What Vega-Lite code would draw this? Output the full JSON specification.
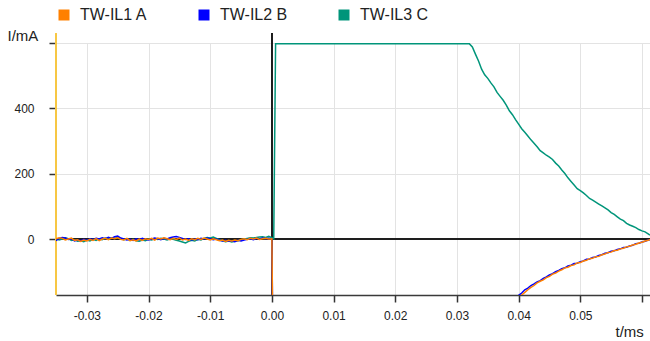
{
  "$schema": "https://vega.github.io/schema/vega-lite/v6.json",
  "width": 594,
  "height": 252,
  "autosize": {"type": "none"},
  "padding": {"left": 56, "top": 43, "right": 0, "bottom": 46},
  "background": "white",
  "config": {
    "view": {"stroke": null},
    "font": "Liberation Sans",
    "axis": {
      "gridColor": "#e3e3e3",
      "gridWidth": 1,
      "tickColor": "#333333",
      "tickSize": 7,
      "tickWidth": 1.5,
      "labelFont": "Liberation Sans",
      "labelFontSize": 12,
      "labelColor": "#222222",
      "titleFont": "Liberation Sans",
      "titleFontSize": 15,
      "titleFontWeight": "normal",
      "titleColor": "#222222"
    }
  },
  "data": {
    "values": [
      {"t": -0.035, "TW-IL1 A": 2, "TW-IL2 B": -4, "TW-IL3 C": 3},
      {"t": -0.0345, "TW-IL1 A": 5, "TW-IL2 B": 3, "TW-IL3 C": -2},
      {"t": -0.034, "TW-IL1 A": 3, "TW-IL2 B": 6, "TW-IL3 C": 1},
      {"t": -0.0335, "TW-IL1 A": -2, "TW-IL2 B": 4, "TW-IL3 C": 5},
      {"t": -0.033, "TW-IL1 A": 1, "TW-IL2 B": 0, "TW-IL3 C": 2},
      {"t": -0.0325, "TW-IL1 A": 4, "TW-IL2 B": 2, "TW-IL3 C": -3},
      {"t": -0.032, "TW-IL1 A": -3, "TW-IL2 B": -5, "TW-IL3 C": -1},
      {"t": -0.0315, "TW-IL1 A": -1, "TW-IL2 B": -2, "TW-IL3 C": -6},
      {"t": -0.031, "TW-IL1 A": -6, "TW-IL2 B": -4, "TW-IL3 C": -4},
      {"t": -0.0305, "TW-IL1 A": -2, "TW-IL2 B": 0, "TW-IL3 C": -7},
      {"t": -0.03, "TW-IL1 A": -5, "TW-IL2 B": -3, "TW-IL3 C": -2},
      {"t": -0.0295, "TW-IL1 A": 0, "TW-IL2 B": 2, "TW-IL3 C": -5},
      {"t": -0.029, "TW-IL1 A": -3, "TW-IL2 B": -1, "TW-IL3 C": 0},
      {"t": -0.0285, "TW-IL1 A": 2, "TW-IL2 B": 3, "TW-IL3 C": -3},
      {"t": -0.028, "TW-IL1 A": -4, "TW-IL2 B": 1, "TW-IL3 C": 2},
      {"t": -0.0275, "TW-IL1 A": 1, "TW-IL2 B": 5, "TW-IL3 C": -1},
      {"t": -0.027, "TW-IL1 A": 3, "TW-IL2 B": 2, "TW-IL3 C": 4},
      {"t": -0.0265, "TW-IL1 A": -1, "TW-IL2 B": 6, "TW-IL3 C": 1},
      {"t": -0.026, "TW-IL1 A": 4, "TW-IL2 B": 3, "TW-IL3 C": 5},
      {"t": -0.0255, "TW-IL1 A": 2, "TW-IL2 B": 8, "TW-IL3 C": 3},
      {"t": -0.025, "TW-IL1 A": 5, "TW-IL2 B": 10, "TW-IL3 C": 6},
      {"t": -0.0245, "TW-IL1 A": 0, "TW-IL2 B": 4, "TW-IL3 C": 2},
      {"t": -0.024, "TW-IL1 A": -2, "TW-IL2 B": 1, "TW-IL3 C": -1},
      {"t": -0.0235, "TW-IL1 A": 3, "TW-IL2 B": -2, "TW-IL3 C": 2},
      {"t": -0.023, "TW-IL1 A": -4, "TW-IL2 B": 0, "TW-IL3 C": -3},
      {"t": -0.0225, "TW-IL1 A": -1, "TW-IL2 B": -3, "TW-IL3 C": 0},
      {"t": -0.022, "TW-IL1 A": -5, "TW-IL2 B": 2, "TW-IL3 C": -4},
      {"t": -0.0215, "TW-IL1 A": 1, "TW-IL2 B": -1, "TW-IL3 C": -6},
      {"t": -0.021, "TW-IL1 A": -3, "TW-IL2 B": 3, "TW-IL3 C": -2},
      {"t": -0.0205, "TW-IL1 A": 2, "TW-IL2 B": 0, "TW-IL3 C": -4},
      {"t": -0.02, "TW-IL1 A": 0, "TW-IL2 B": -2, "TW-IL3 C": 1},
      {"t": -0.0195, "TW-IL1 A": 3, "TW-IL2 B": 1, "TW-IL3 C": -2},
      {"t": -0.019, "TW-IL1 A": -2, "TW-IL2 B": 4, "TW-IL3 C": 2},
      {"t": -0.0185, "TW-IL1 A": 4, "TW-IL2 B": 2, "TW-IL3 C": 0},
      {"t": -0.018, "TW-IL1 A": 1, "TW-IL2 B": -1, "TW-IL3 C": 3},
      {"t": -0.0175, "TW-IL1 A": 5, "TW-IL2 B": 3, "TW-IL3 C": 1},
      {"t": -0.017, "TW-IL1 A": 2, "TW-IL2 B": 1, "TW-IL3 C": -2},
      {"t": -0.0165, "TW-IL1 A": -1, "TW-IL2 B": 5, "TW-IL3 C": 2},
      {"t": -0.016, "TW-IL1 A": 3, "TW-IL2 B": 7, "TW-IL3 C": 0},
      {"t": -0.0155, "TW-IL1 A": 0, "TW-IL2 B": 9, "TW-IL3 C": -3},
      {"t": -0.015, "TW-IL1 A": 4, "TW-IL2 B": 6, "TW-IL3 C": -5},
      {"t": -0.0145, "TW-IL1 A": -2, "TW-IL2 B": 3, "TW-IL3 C": -8},
      {"t": -0.014, "TW-IL1 A": 1, "TW-IL2 B": 0, "TW-IL3 C": -11},
      {"t": -0.0135, "TW-IL1 A": -3, "TW-IL2 B": 2, "TW-IL3 C": -6},
      {"t": -0.013, "TW-IL1 A": 2, "TW-IL2 B": -2, "TW-IL3 C": -3},
      {"t": -0.0125, "TW-IL1 A": -1, "TW-IL2 B": 1, "TW-IL3 C": -5},
      {"t": -0.012, "TW-IL1 A": 3, "TW-IL2 B": -1, "TW-IL3 C": 0},
      {"t": -0.0115, "TW-IL1 A": 0, "TW-IL2 B": 3, "TW-IL3 C": -2},
      {"t": -0.011, "TW-IL1 A": 4, "TW-IL2 B": 1, "TW-IL3 C": 3},
      {"t": -0.0105, "TW-IL1 A": 1, "TW-IL2 B": 4, "TW-IL3 C": 6},
      {"t": -0.01, "TW-IL1 A": -2, "TW-IL2 B": 2, "TW-IL3 C": 4},
      {"t": -0.0095, "TW-IL1 A": 2, "TW-IL2 B": -1, "TW-IL3 C": 7},
      {"t": -0.009, "TW-IL1 A": -1, "TW-IL2 B": 1, "TW-IL3 C": 3},
      {"t": -0.0085, "TW-IL1 A": -4, "TW-IL2 B": -3, "TW-IL3 C": -1},
      {"t": -0.008, "TW-IL1 A": -2, "TW-IL2 B": -5, "TW-IL3 C": -4},
      {"t": -0.0075, "TW-IL1 A": -6, "TW-IL2 B": -3, "TW-IL3 C": -7},
      {"t": -0.007, "TW-IL1 A": -3, "TW-IL2 B": -6, "TW-IL3 C": -5},
      {"t": -0.0065, "TW-IL1 A": -5, "TW-IL2 B": -4, "TW-IL3 C": -8},
      {"t": -0.006, "TW-IL1 A": -2, "TW-IL2 B": -7, "TW-IL3 C": -6},
      {"t": -0.0055, "TW-IL1 A": -4, "TW-IL2 B": -3, "TW-IL3 C": -4},
      {"t": -0.005, "TW-IL1 A": 0, "TW-IL2 B": -5, "TW-IL3 C": -1},
      {"t": -0.0045, "TW-IL1 A": 2, "TW-IL2 B": -2, "TW-IL3 C": 1},
      {"t": -0.004, "TW-IL1 A": -1, "TW-IL2 B": 0, "TW-IL3 C": 3},
      {"t": -0.0035, "TW-IL1 A": 3, "TW-IL2 B": 2, "TW-IL3 C": 5},
      {"t": -0.003, "TW-IL1 A": 1, "TW-IL2 B": -1, "TW-IL3 C": 4},
      {"t": -0.0025, "TW-IL1 A": 4, "TW-IL2 B": 3, "TW-IL3 C": 6},
      {"t": -0.002, "TW-IL1 A": 0, "TW-IL2 B": 1, "TW-IL3 C": 7},
      {"t": -0.0015, "TW-IL1 A": 2, "TW-IL2 B": 4, "TW-IL3 C": 8},
      {"t": -0.001, "TW-IL1 A": 3, "TW-IL2 B": 2, "TW-IL3 C": 6},
      {"t": -0.0005, "TW-IL1 A": 1, "TW-IL2 B": 3, "TW-IL3 C": 9},
      {"t": 0, "TW-IL1 A": 2, "TW-IL2 B": 1, "TW-IL3 C": 5},
      {"t": 0.0003, "TW-IL1 A": -600, "TW-IL2 B": -600, "TW-IL3 C": 2},
      {"t": 0.0006, "TW-IL1 A": -300, "TW-IL2 B": -300, "TW-IL3 C": 598},
      {"t": 0.032, "TW-IL1 A": -300, "TW-IL2 B": -300, "TW-IL3 C": 598},
      {"t": 0.0325, "TW-IL1 A": -295, "TW-IL2 B": -294, "TW-IL3 C": 588},
      {"t": 0.033, "TW-IL1 A": -284, "TW-IL2 B": -283, "TW-IL3 C": 566},
      {"t": 0.0335, "TW-IL1 A": -273, "TW-IL2 B": -271, "TW-IL3 C": 545},
      {"t": 0.034, "TW-IL1 A": -261, "TW-IL2 B": -262, "TW-IL3 C": 520},
      {"t": 0.0345, "TW-IL1 A": -252, "TW-IL2 B": -250, "TW-IL3 C": 503},
      {"t": 0.035, "TW-IL1 A": -246, "TW-IL2 B": -245, "TW-IL3 C": 492},
      {"t": 0.0355, "TW-IL1 A": -239, "TW-IL2 B": -237, "TW-IL3 C": 478},
      {"t": 0.036, "TW-IL1 A": -233, "TW-IL2 B": -232, "TW-IL3 C": 466},
      {"t": 0.0365, "TW-IL1 A": -225, "TW-IL2 B": -223, "TW-IL3 C": 449},
      {"t": 0.037, "TW-IL1 A": -219, "TW-IL2 B": -217, "TW-IL3 C": 437},
      {"t": 0.0375, "TW-IL1 A": -213, "TW-IL2 B": -210, "TW-IL3 C": 425},
      {"t": 0.038, "TW-IL1 A": -206, "TW-IL2 B": -203, "TW-IL3 C": 410},
      {"t": 0.0385, "TW-IL1 A": -199, "TW-IL2 B": -195, "TW-IL3 C": 393},
      {"t": 0.039, "TW-IL1 A": -192, "TW-IL2 B": -187, "TW-IL3 C": 381},
      {"t": 0.0395, "TW-IL1 A": -186, "TW-IL2 B": -180, "TW-IL3 C": 366},
      {"t": 0.04, "TW-IL1 A": -179, "TW-IL2 B": -171, "TW-IL3 C": 352},
      {"t": 0.0405, "TW-IL1 A": -170, "TW-IL2 B": -164, "TW-IL3 C": 338},
      {"t": 0.041, "TW-IL1 A": -162, "TW-IL2 B": -154, "TW-IL3 C": 327},
      {"t": 0.0415, "TW-IL1 A": -154, "TW-IL2 B": -149, "TW-IL3 C": 316},
      {"t": 0.042, "TW-IL1 A": -147, "TW-IL2 B": -141, "TW-IL3 C": 304},
      {"t": 0.0425, "TW-IL1 A": -141, "TW-IL2 B": -136, "TW-IL3 C": 294},
      {"t": 0.043, "TW-IL1 A": -133, "TW-IL2 B": -130, "TW-IL3 C": 283},
      {"t": 0.0435, "TW-IL1 A": -128, "TW-IL2 B": -126, "TW-IL3 C": 271},
      {"t": 0.044, "TW-IL1 A": -124, "TW-IL2 B": -119, "TW-IL3 C": 264},
      {"t": 0.0445, "TW-IL1 A": -117, "TW-IL2 B": -115, "TW-IL3 C": 257},
      {"t": 0.045, "TW-IL1 A": -113, "TW-IL2 B": -109, "TW-IL3 C": 251},
      {"t": 0.0455, "TW-IL1 A": -106, "TW-IL2 B": -105, "TW-IL3 C": 244},
      {"t": 0.046, "TW-IL1 A": -103, "TW-IL2 B": -99, "TW-IL3 C": 233},
      {"t": 0.0465, "TW-IL1 A": -97, "TW-IL2 B": -95, "TW-IL3 C": 224},
      {"t": 0.047, "TW-IL1 A": -93, "TW-IL2 B": -90, "TW-IL3 C": 212},
      {"t": 0.0475, "TW-IL1 A": -87, "TW-IL2 B": -87, "TW-IL3 C": 201},
      {"t": 0.048, "TW-IL1 A": -85, "TW-IL2 B": -81, "TW-IL3 C": 188},
      {"t": 0.0485, "TW-IL1 A": -80, "TW-IL2 B": -79, "TW-IL3 C": 177},
      {"t": 0.049, "TW-IL1 A": -78, "TW-IL2 B": -74, "TW-IL3 C": 166},
      {"t": 0.0495, "TW-IL1 A": -72, "TW-IL2 B": -73, "TW-IL3 C": 155},
      {"t": 0.05, "TW-IL1 A": -71, "TW-IL2 B": -68, "TW-IL3 C": 149},
      {"t": 0.0505, "TW-IL1 A": -66, "TW-IL2 B": -66, "TW-IL3 C": 142},
      {"t": 0.051, "TW-IL1 A": -64, "TW-IL2 B": -61, "TW-IL3 C": 134},
      {"t": 0.0515, "TW-IL1 A": -59, "TW-IL2 B": -60, "TW-IL3 C": 125},
      {"t": 0.052, "TW-IL1 A": -58, "TW-IL2 B": -55, "TW-IL3 C": 120},
      {"t": 0.0525, "TW-IL1 A": -53, "TW-IL2 B": -54, "TW-IL3 C": 114},
      {"t": 0.053, "TW-IL1 A": -52, "TW-IL2 B": -49, "TW-IL3 C": 108},
      {"t": 0.0535, "TW-IL1 A": -47, "TW-IL2 B": -47, "TW-IL3 C": 102},
      {"t": 0.054, "TW-IL1 A": -45, "TW-IL2 B": -42, "TW-IL3 C": 96},
      {"t": 0.0545, "TW-IL1 A": -40, "TW-IL2 B": -41, "TW-IL3 C": 90},
      {"t": 0.055, "TW-IL1 A": -39, "TW-IL2 B": -36, "TW-IL3 C": 82},
      {"t": 0.0555, "TW-IL1 A": -34, "TW-IL2 B": -35, "TW-IL3 C": 76},
      {"t": 0.056, "TW-IL1 A": -33, "TW-IL2 B": -31, "TW-IL3 C": 69},
      {"t": 0.0565, "TW-IL1 A": -29, "TW-IL2 B": -29, "TW-IL3 C": 62},
      {"t": 0.057, "TW-IL1 A": -27, "TW-IL2 B": -25, "TW-IL3 C": 57},
      {"t": 0.0575, "TW-IL1 A": -23, "TW-IL2 B": -24, "TW-IL3 C": 49},
      {"t": 0.058, "TW-IL1 A": -21, "TW-IL2 B": -20, "TW-IL3 C": 44},
      {"t": 0.0585, "TW-IL1 A": -17, "TW-IL2 B": -18, "TW-IL3 C": 40},
      {"t": 0.059, "TW-IL1 A": -15, "TW-IL2 B": -13, "TW-IL3 C": 36},
      {"t": 0.0595, "TW-IL1 A": -11, "TW-IL2 B": -12, "TW-IL3 C": 30},
      {"t": 0.06, "TW-IL1 A": -9, "TW-IL2 B": -8, "TW-IL3 C": 26},
      {"t": 0.0605, "TW-IL1 A": -5, "TW-IL2 B": -6, "TW-IL3 C": 23},
      {"t": 0.061, "TW-IL1 A": -3, "TW-IL2 B": -2, "TW-IL3 C": 17},
      {"t": 0.0613, "TW-IL1 A": 0, "TW-IL2 B": -1, "TW-IL3 C": 13}
    ]
  },
  "layer": [
    {
      "mark": {"type": "rule", "color": "#1e1e1e", "strokeWidth": 1.5},
      "encoding": {"y": {"datum": 0, "type": "quantitative"}}
    },
    {
      "mark": {"type": "rule", "color": "#1e1e1e", "strokeWidth": 1.5},
      "encoding": {
        "x": {"datum": 0, "type": "quantitative"},
        "y": {"datum": -170, "type": "quantitative"},
        "y2": {"datum": 628}
      }
    },
    {
      "mark": {"type": "rule", "color": "#f7c744", "strokeWidth": 1.5},
      "encoding": {
        "x": {"datum": -0.035, "type": "quantitative"},
        "y": {"datum": -170, "type": "quantitative"},
        "y2": {"datum": 628}
      }
    },
    {
      "transform": [
        {"fold": ["TW-IL3 C", "TW-IL2 B", "TW-IL1 A"], "as": ["series", "I"]}
      ],
      "mark": {"type": "line", "clip": true, "strokeWidth": 1.5, "interpolate": "linear"},
      "encoding": {
        "x": {
          "field": "t",
          "type": "quantitative",
          "scale": {"domain": [-0.035, 0.0613], "nice": false, "zero": false},
          "axis": {
            "values": [-0.03, -0.02, -0.01, 0, 0.01, 0.02, 0.03, 0.04, 0.05, 0.06],
            "format": ".2f",
            "labelExpr": "replace(datum.label, '\u2212', '-')",
            "grid": true,
            "domainColor": "#3a3a3a",
            "domainWidth": 1.5,
            "labelPadding": 8,
            "labelBound": true,
            "labelFlush": false,
            "title": "t/ms",
            "titleX": 559,
            "titleY": 41,
            "titleAlign": "left",
            "titleBaseline": "alphabetic"
          }
        },
        "y": {
          "field": "I",
          "type": "quantitative",
          "scale": {"domain": [-170, 600], "nice": false, "zero": false},
          "axis": {
            "values": [0, 200, 400, 600],
            "labelExpr": "datum.value === 600 ? '' : datum.label",
            "grid": true,
            "domain": false,
            "labelPadding": 15,
            "title": "I/mA",
            "titleAngle": 0,
            "titleX": -49,
            "titleY": -3,
            "titleAlign": "left",
            "titleBaseline": "alphabetic"
          }
        },
        "color": {
          "field": "series",
          "type": "nominal",
          "scale": {
            "domain": ["TW-IL1 A", "TW-IL2 B", "TW-IL3 C"],
            "range": ["#ff8000", "#0000ff", "#00957a"]
          },
          "legend": {
            "orient": "none",
            "legendX": 0,
            "legendY": -36,
            "direction": "horizontal",
            "title": null,
            "padding": 0,
            "symbolType": "square",
            "symbolSize": 121,
            "symbolStrokeWidth": 0,
            "labelFontSize": 16,
            "labelColor": "#222222",
            "labelOffset": 8,
            "columnPadding": 48,
            "encode": {
              "symbols": {
                "update": {
                  "fill": {"scale": "color", "field": "value"},
                  "opacity": {"value": 1}
                }
              }
            }
          }
        }
      }
    }
  ]
}
